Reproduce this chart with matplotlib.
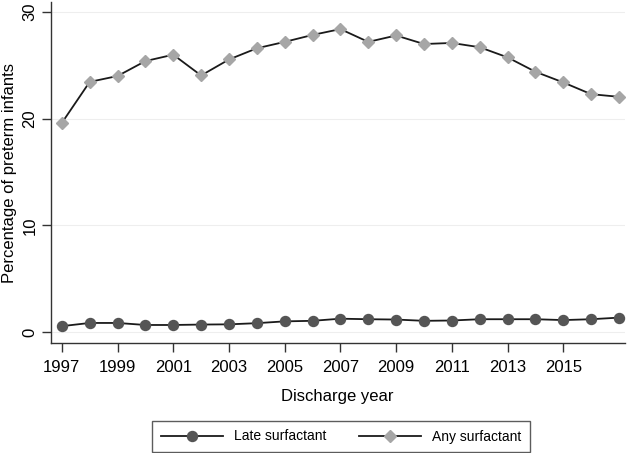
import matplotlib
matplotlib.use('Agg')
import matplotlib.pyplot as plt
import numpy as np

# Data
years = list(range(1997, 2018))
late_surfactant = [0.55, 0.85, 0.85, 0.66, 0.66, 0.70, 0.72, 0.83, 1.00, 1.05, 1.25,
                   1.20, 1.17, 1.05, 1.08, 1.20, 1.20, 1.20, 1.12, 1.20, 1.35]
any_surfactant = [19.6, 23.45, 24.0, 25.4, 26.0, 24.05, 25.55, 26.6, 27.2, 27.85, 28.4,
                  27.2, 27.8, 27.0, 27.1, 26.7, 25.75, 24.4, 23.4, 22.3, 22.05]
x_ticks = list(range(1997, 2017, 2))
y_ticks = [0, 10, 20, 30]

plt.rcParams['font.family'] = ['Liberation Sans', 'DejaVu Sans']

fig = plt.figure(figsize=(6.32, 4.53), dpi=100)
fig.patch.set_facecolor('white')
ax = fig.add_axes([0.0802, 0.2428, 0.908, 0.7528])

# faint horizontal grid
for yv in y_ticks:
    ax.axhline(yv, color='#eeeeee', linewidth=0.8, zorder=0)

ax.plot(years, late_surfactant, color='#1a1a1a', linewidth=1.3, marker='o',
        markersize=7.2, markerfacecolor='#555555', markeredgecolor='#555555',
        label='Late surfactant', zorder=3)
ax.plot(years, any_surfactant, color='#1a1a1a', linewidth=1.3, marker='D',
        markersize=6.4, markerfacecolor='#a6a6a6', markeredgecolor='#a6a6a6',
        label='Any surfactant', zorder=3)

ax.set_xlim(1996.6, 2017.2)
ax.set_ylim(-1.03, 30.94)
ax.set_xticks(x_ticks)
ax.set_yticks(y_ticks)
ax.set_yticklabels([str(v) for v in y_ticks], rotation=90, va='center')

for side in ['top', 'right']:
    ax.spines[side].set_visible(False)
for side in ['left', 'bottom']:
    ax.spines[side].set_color('#333333')
    ax.spines[side].set_linewidth(1.0)

ax.tick_params(axis='both', colors='#333333', labelcolor='black', length=6.5,
               width=1.0, labelsize=12)
ax.tick_params(axis='x', pad=5.5)
ax.tick_params(axis='y', pad=3)

ax.set_xlabel('Discharge year', fontsize=12, labelpad=10)
ax.set_ylabel('Percentage of preterm infants', fontsize=12, labelpad=4)

leg = fig.legend(loc='center', bbox_to_anchor=(341 / 632, 1 - 436.5 / 453), ncol=2,
                 fontsize=10, frameon=True, fancybox=False, handlelength=4.5,
                 columnspacing=2.3, borderpad=0.6, handletextpad=0.8)
leg.get_frame().set_edgecolor('#333333')
leg.get_frame().set_linewidth(1.0)

fig.savefig('out.png', dpi=100, facecolor='white')
